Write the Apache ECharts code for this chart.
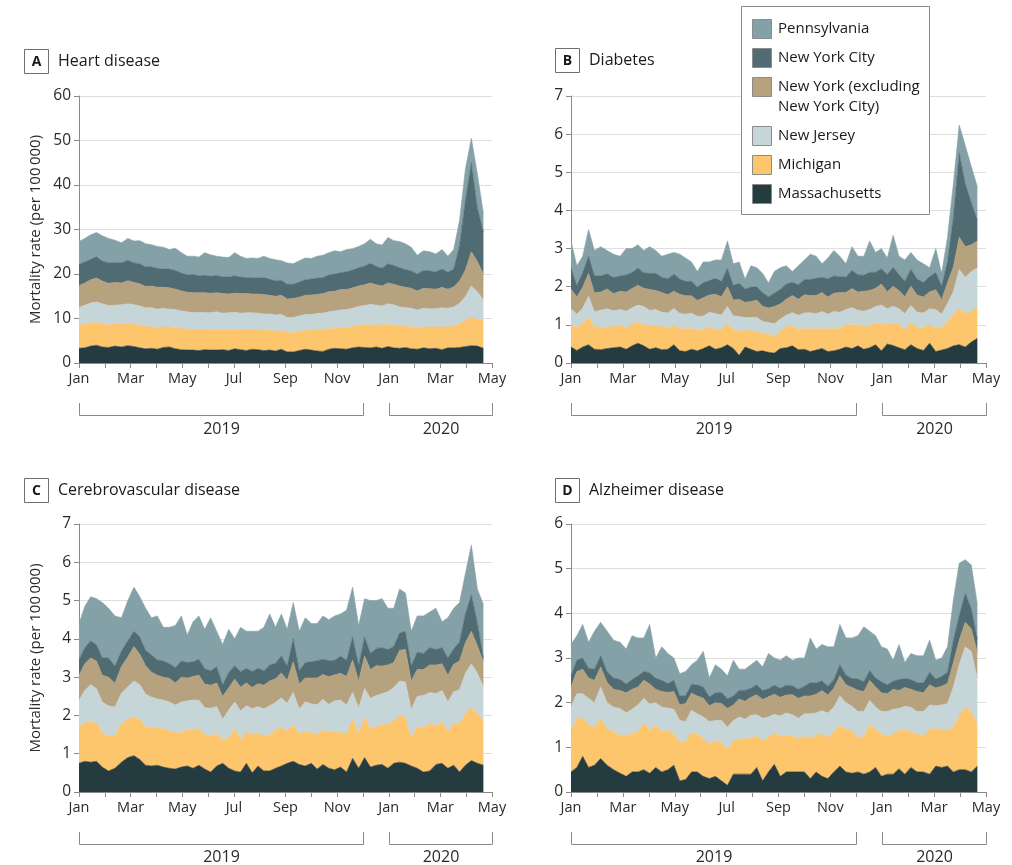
<!DOCTYPE html>
<html>
<head>
<meta charset="utf-8">
<title>Weekly mortality rates by state</title>
<script src="https://cdn.jsdelivr.net/npm/echarts@6/dist/echarts.min.js"></script>
<style>
  html, body { margin: 0; padding: 0; background: #fff; }
  #chart { width: 1012px; height: 865px; }
</style>
</head>
<body>
<div id="chart"></div>
<script>
// States, bottom of the stack first
const states = ['Massachusetts', 'Michigan', 'New Jersey', 'New York (excluding New York City)', 'New York City', 'Pennsylvania'];
const monthLabels = ['Jan', 'Feb', 'Mar', 'Apr', 'May', 'Jun', 'Jul', 'Aug', 'Sep', 'Oct', 'Nov', 'Dec', 'Jan', 'Feb', 'Mar', 'Apr', 'May'];
const yearLabels = ['2019', '2020'];
const firstWeek = '2019-01-01';
const weekCount = 69;

// A. Heart disease, weekly rate per 100 000
const heartMA = [3.3,3.4,3.8,4.0,3.6,3.5,3.8,3.6,3.9,3.7, 3.4,3.2,3.3,3.1,3.5,3.6,3.2,3.0,2.9,2.9, 2.8,3.0,2.9,2.9,3.0,2.8,3.2,3.0,2.8,3.1, 3.0,2.8,2.9,2.7,3.1,2.5,2.5,2.8,3.1,2.9, 2.7,2.6,3.1,3.3,3.2,3.1,3.4,3.6,3.5,3.4, 3.6,3.3,3.7,3.4,3.3,3.5,3.2,3.1,3.4,3.2, 3.3,3.0,3.4,3.4,3.5,3.7,3.9,3.8,3.3];
const heartMI = [5.2,5.3,5.2,5.1,5.3,5.0,5.0,5.2,4.9,5.0, 5.1,5.0,4.8,4.9,4.6,4.5,4.7,4.8,4.7,4.6, 4.7,4.5,4.6,4.7,4.5,4.7,4.4,4.5,4.7,4.4, 4.5,4.6,4.4,4.5,4.2,4.4,4.3,4.3,4.2,4.5, 4.8,4.9,4.6,4.5,4.7,4.9,4.8,4.9,5.1,5.2, 5.0,5.2,5.0,5.2,5.0,4.8,4.9,4.8,4.7,4.9, 4.8,5.1,4.8,4.9,5.3,5.8,6.4,6.0,6.5];
const heartNJ = [4.0,4.3,4.5,4.6,4.4,4.4,4.2,4.3,4.5,4.4, 4.3,4.2,4.3,4.1,4.2,4.0,4.1,3.9,3.9,3.8, 3.9,3.8,3.8,3.9,3.7,3.8,3.8,3.7,3.8,3.8, 3.7,3.6,3.7,3.6,3.6,3.3,3.4,3.5,3.6,3.5, 3.6,3.7,3.8,3.9,4.0,4.0,4.1,4.2,4.3,4.6, 4.4,4.3,4.6,4.5,4.3,4.2,4.2,4.0,4.2,4.1, 4.1,4.3,4.1,4.3,4.6,5.4,7.0,6.2,4.4];
const heartNY = [4.9,5.0,5.2,5.4,5.1,5.0,5.1,4.9,5.2,5.0, 5.0,4.8,4.9,4.9,4.7,4.8,4.6,4.5,4.4,4.5, 4.4,4.5,4.4,4.3,4.4,4.2,4.3,4.4,4.3,4.2, 4.3,4.4,4.2,4.2,4.3,4.2,4.3,4.2,4.3,4.4, 4.3,4.4,4.5,4.4,4.6,4.5,4.6,4.6,4.7,4.8, 4.6,4.5,4.7,4.6,4.7,4.5,4.5,4.3,4.5,4.5, 4.4,4.6,4.3,4.5,5.0,6.0,7.7,6.8,5.8];
const heartNYC = [4.8,4.7,4.6,4.8,4.5,4.6,4.4,4.5,4.6,4.4, 4.5,4.4,4.3,4.3,4.1,4.2,4.2,4.0,3.9,4.1, 3.8,3.9,3.8,3.9,3.7,3.8,3.9,3.7,3.6,3.7, 3.6,3.8,3.6,3.5,3.4,3.3,3.2,3.4,3.5,3.6, 3.7,3.6,3.8,3.9,3.8,4.0,4.0,4.1,4.2,4.4, 4.1,4.0,4.3,4.2,4.1,4.0,3.9,3.8,4.0,4.0, 3.9,4.1,3.8,4.0,8.0,15.5,20.0,12.0,9.5];
const heartPA = [5.1,5.3,5.5,5.4,5.7,5.5,5.1,4.5,4.9,4.9, 5.2,5.2,5.0,4.9,4.9,4.4,5.0,4.6,4.2,4.1, 4.2,5.1,4.8,4.3,4.5,4.4,5.2,4.7,4.3,4.4, 4.4,4.8,4.7,4.7,4.4,4.8,4.6,4.8,4.9,4.6, 4.9,5.0,5.0,5.2,4.7,5.0,4.8,4.8,5.0,5.4, 5.1,5.2,5.9,5.6,5.9,5.8,5.3,4.2,4.4,4.3, 4.0,4.4,3.6,4.4,5.6,7.1,5.5,7.7,4.1];

// B. Diabetes
const diabMA = [.42,.33,.42,.48,.36,.35,.38,.40,.42,.36, .45,.52,.45,.36,.40,.35,.36,.48,.32,.30, .36,.32,.38,.45,.36,.40,.48,.38,.20,.42, .36,.30,.32,.28,.26,.38,.40,.45,.35,.36, .30,.34,.38,.30,.32,.36,.42,.38,.45,.36, .40,.48,.32,.50,.46,.40,.35,.48,.38,.33, .52,.30,.34,.38,.45,.48,.42,.55,.65];
const diabMI = [.58,.60,.62,.72,.60,.58,.56,.55,.58,.55, .58,.55,.55,.62,.58,.60,.55,.50,.58,.60, .55,.52,.50,.48,.52,.48,.55,.50,.62,.45, .48,.52,.45,.48,.42,.45,.55,.52,.52,.55, .60,.55,.52,.60,.58,.55,.58,.62,.55,.58, .60,.55,.72,.50,.58,.62,.52,.58,.55,.60, .48,.62,.58,.70,.82,.95,.88,.80,.81];
const diabNJ = [.42,.35,.40,.55,.38,.45,.48,.42,.40,.45, .42,.45,.48,.40,.42,.38,.40,.45,.40,.38, .40,.38,.35,.40,.42,.38,.45,.35,.40,.32, .35,.38,.32,.30,.35,.32,.30,.35,.38,.40, .42,.40,.45,.38,.45,.42,.40,.45,.38,.42, .40,.45,.48,.42,.45,.40,.42,.45,.40,.38, .42,.48,.36,.48,.60,1.02,.95,1.05,1.04];
const diabNY = [.52,.45,.55,.60,.50,.48,.52,.45,.48,.50, .50,.52,.48,.55,.50,.52,.48,.45,.50,.48, .45,.42,.48,.45,.50,.48,.52,.42,.45,.40, .42,.45,.40,.38,.45,.40,.42,.45,.42,.48, .45,.48,.50,.45,.48,.52,.45,.50,.48,.52, .50,.48,.55,.45,.52,.48,.45,.50,.45,.42, .45,.52,.38,.55,.65,.85,.80,.70,.70];
const diabNYC = [.55,.30,.38,.45,.45,.42,.40,.42,.40,.45, .42,.45,.40,.42,.45,.40,.42,.45,.40,.38, .38,.35,.40,.38,.42,.40,.48,.38,.42,.35, .38,.35,.35,.30,.35,.38,.40,.35,.38,.40, .42,.45,.40,.48,.45,.42,.40,.48,.45,.42, .48,.42,.40,.45,.50,.42,.40,.45,.42,.38, .40,.45,.35,.55,1.30,2.20,1.65,1.10,.55];
const diabPA = [.71,.52,.43,.70,.66,.77,.61,.61,.52,.69, .63,.61,.59,.70,.60,.55,.64,.57,.65,.61, .51,.41,.54,.49,.48,.56,.72,.57,.56,.26, .56,.50,.51,.36,.57,.57,.48,.28,.50,.51, .66,.58,.35,.54,.67,.53,.35,.62,.49,.50, .82,.52,.53,.43,.84,.48,.56,.44,.50,.49, .23,.63,.34,.64,.88,.74,1.00,.95,.87];

// C. Cerebrovascular disease
const cereMA = [.75,.80,.78,.80,.65,.55,.62,.78,.90,.95, .85,.70,.68,.70,.65,.62,.60,.65,.68,.62, .70,.60,.52,.68,.75,.62,.55,.52,.75,.50, .68,.55,.55,.62,.68,.75,.80,.72,.68,.75, .60,.72,.62,.58,.65,.52,.88,.62,.90,.65, .70,.72,.62,.75,.78,.75,.68,.62,.52,.55, .72,.75,.62,.70,.52,.70,.82,.75,.70];
const cereMI = [.95,1.00,1.05,1.00,.90,.90,.85,1.00,1.00,1.00, 1.05,1.00,1.00,.98,1.00,.98,.95,.90,.95,1.00, .95,.90,.95,.85,.60,.80,1.10,.85,.80,1.00, .85,.90,.95,1.00,1.00,.85,.95,.80,.90,.80, .90,.90,.95,1.00,.90,1.00,1.02,.90,1.05,1.00, 1.00,1.05,1.15,1.10,1.22,1.20,.72,1.10,1.15,1.25, 1.00,1.10,.95,1.10,1.25,1.35,1.38,1.30,1.15];
const cereNJ = [.70,.85,.97,.90,.80,.80,.75,.80,.85,.95, .90,.85,.80,.75,.75,.75,.72,.80,.75,.78, .75,.70,.72,.70,.55,.72,.70,.75,.70,.68, .70,.72,.75,.72,.78,.72,.85,.65,.78,.75, .78,.80,.72,.80,.85,.75,.70,.68,.75,.80, .82,.80,.85,.88,.90,.92,.75,.78,.85,.80, .85,.80,.78,.82,.90,1.05,1.15,1.05,.90];
const cereNY = [.65,.70,.70,.72,.70,.75,.62,.70,.78,.90, .80,.75,.65,.62,.60,.62,.58,.65,.60,.62, .65,.62,.60,.62,.60,.58,.60,.62,.60,.55, .60,.62,.65,.62,.65,.60,.80,.65,.62,.68, .70,.65,.72,.68,.70,.75,.85,.70,.85,.75, .78,.72,.70,.65,.80,.85,.75,.70,.68,.72, .75,.70,.70,.72,.75,.80,.85,.72,.65];
const cereNYC = [.40,.42,.45,.42,.45,.50,.45,.40,.42,.40, .45,.40,.45,.40,.42,.38,.40,.42,.40,.38, .42,.40,.38,.42,.30,.40,.35,.40,.38,.42, .40,.38,.42,.40,.45,.38,.60,.35,.40,.42, .45,.40,.42,.38,.45,.42,.60,.40,.50,.42, .45,.48,.40,.42,.45,.48,.40,.45,.42,.45, .40,.42,.45,.40,.50,.75,.95,.60,.10];
const cerePA = [.95,1.08,1.15,1.21,1.45,1.30,1.31,.87,1.05,1.15, 1.05,1.10,.97,1.15,.88,.95,1.10,1.18,.72,1.05, 1.13,1.03,1.38,.93,1.05,1.13,.70,1.16,.97,1.05, .97,1.13,1.33,.94,1.09,.95,.95,1.03,1.17,1.00, .97,1.13,1.07,1.16,1.10,1.31,1.30,1.05,1.00,1.38, 1.25,1.28,1.08,1.00,1.15,1.00,.90,.95,.98,.93, 1.08,.68,1.05,1.06,1.03,1.05,1.30,.88,1.40];

// D. Alzheimer disease
const alzMA = [.45,.55,.80,.55,.60,.75,.60,.50,.42,.35, .45,.45,.50,.42,.55,.45,.50,.60,.25,.28, .45,.45,.35,.30,.35,.25,.15,.40,.40,.40, .40,.55,.25,.45,.62,.35,.45,.45,.45,.45, .30,.45,.35,.30,.45,.58,.45,.42,.45,.40, .45,.55,.35,.40,.40,.52,.40,.55,.45,.45, .40,.58,.55,.58,.45,.50,.50,.45,.58];
const alzMI = [.90,1.10,.85,.95,.85,.90,.80,.85,.85,.92, .85,.90,1.05,.95,.95,.90,.88,.70,.85,.85, .88,.85,.85,.78,.80,.85,.80,.75,.80,.78, .82,.70,.90,.78,.70,.90,.82,.80,.75,.80, .90,.82,.95,.92,.90,.92,.95,.95,.75,.85, 1.05,.85,.95,.85,.90,.85,1.00,.80,.85,.80, 1.00,.85,.85,.80,1.00,1.20,1.40,1.35,.95];
const alzNJ = [.55,.55,.55,.60,.55,.70,.60,.55,.60,.50, .55,.60,.55,.60,.50,.55,.50,.55,.50,.45, .50,.45,.48,.50,.45,.50,.50,.45,.48,.45, .50,.48,.50,.45,.42,.45,.50,.48,.45,.50, .55,.50,.52,.55,.55,.65,.60,.55,.60,.55, .55,.50,.50,.55,.55,.50,.52,.55,.50,.55, .55,.50,.55,.60,.90,1.15,1.35,1.35,1.00];
const alzNY = [.45,.50,.55,.45,.50,.45,.45,.40,.40,.45, .45,.40,.40,.45,.30,.35,.35,.40,.35,.40, .38,.40,.42,.35,.40,.38,.42,.35,.40,.40, .40,.45,.42,.45,.45,.42,.40,.45,.45,.40, .40,.42,.45,.40,.42,.45,.40,.42,.48,.45, .45,.45,.42,.40,.45,.40,.42,.40,.45,.42, .45,.40,.42,.45,.55,.55,.55,.50,.60];
const alzNYC = [.25,.25,.25,.22,.25,.25,.25,.25,.25,.20, .22,.25,.20,.25,.25,.25,.20,.25,.20,.18, .20,.25,.25,.20,.22,.25,.22,.20,.20,.25, .20,.22,.20,.18,.20,.20,.22,.20,.20,.22, .30,.25,.22,.20,.20,.25,.22,.20,.25,.22, .22,.20,.25,.20,.18,.25,.20,.22,.20,.22, .28,.20,.22,.25,.50,.55,.65,.45,.30];
const alzPA = [.70,.55,.75,.58,.85,.75,.90,.85,.83,.78, .98,.85,.75,1.08,.45,.75,.67,.50,.50,.54, .44,.55,.80,.42,.63,.52,.51,.80,.47,.47, .53,.55,.53,.79,.61,.63,.66,.57,.70,.63, 1.00,.76,.81,.88,.73,.90,.83,.91,.97,1.23, .88,.95,.78,.80,.47,.78,.36,.58,.60,.61, .72,.42,.41,.57,.90,1.17,.75,.98,.77];

// Layer colours, same order as states
const colors = ['#243b40', '#fdc56c', '#c5d5d8', '#b6a27f', '#506b72', '#84a1a8'];
const FONT = '"Open Sans", "Noto Sans", sans-serif';

const panels = [
  { letter: 'A', title: 'Heart disease', values: [heartMA, heartMI, heartNJ, heartNY, heartNYC, heartPA], max: 60, interval: 10, axisName: true,
    grid: { left: 79, top: 96, right: 520, bottom: 502 }, boxX: 24, boxY: 49, bracketY: 403, yearY: 429 },
  { letter: 'B', title: 'Diabetes', values: [diabMA, diabMI, diabNJ, diabNY, diabNYC, diabPA], max: 7, interval: 1, axisName: false,
    grid: { left: 571, top: 96, right: 26, bottom: 502 }, boxX: 555, boxY: 48, bracketY: 403, yearY: 429 },
  { letter: 'C', title: 'Cerebrovascular disease', values: [cereMA, cereMI, cereNJ, cereNY, cereNYC, cerePA], max: 7, interval: 1, axisName: true,
    grid: { left: 79, top: 524, right: 520, bottom: 73 }, boxX: 24, boxY: 478, bracketY: 832, yearY: 857 },
  { letter: 'D', title: 'Alzheimer disease', values: [alzMA, alzMI, alzNJ, alzNY, alzNYC, alzPA], max: 6, interval: 1, axisName: false,
    grid: { left: 571, top: 524, right: 26, bottom: 73 }, boxX: 555, boxY: 478, bracketY: 832, yearY: 857 }
];

// Position of each week on a month-based axis (0 = 1 Jan 2019, 16 = 1 May 2020)
const start = new Date(firstWeek + 'T00:00:00');
const weekX = [];
for (let i = 0; i < weekCount; i++) {
  const d = new Date(start.getFullYear(), start.getMonth(), start.getDate() + 7 * i);
  const daysInMonth = new Date(d.getFullYear(), d.getMonth() + 1, 0).getDate();
  weekX.push((d.getFullYear() - 2019) * 12 + d.getMonth() + (d.getDate() - 1) / daysInMonth);
}

const axisColor = '#8a8a8a';
const textColor = '#2a2a2a';

const option = {
  animation: false,
  backgroundColor: '#fff',
  textStyle: { fontFamily: FONT },
  grid: panels.map(p => Object.assign({ containLabel: false }, p.grid)),
  xAxis: panels.map((p, i) => ({
    type: 'value', gridIndex: i, min: 0, max: 16, interval: 1,
    axisLine: { lineStyle: { color: axisColor, width: 1 } },
    axisTick: { show: true, length: 5, lineStyle: { color: axisColor } },
    splitLine: { show: false },
    axisLabel: {
      fontSize: 14.5, color: textColor, fontFamily: FONT, margin: 8,
      showMinLabel: true, showMaxLabel: true,
      formatter: v => (v % 2 === 0 ? monthLabels[v] : '')
    }
  })),
  yAxis: panels.map((p, i) => ({
    type: 'value', gridIndex: i, min: 0, max: p.max, interval: p.interval,
    name: p.axisName ? 'Mortality rate (per 100\u2009000)' : '',
    nameLocation: 'middle', nameGap: 36,
    nameTextStyle: { fontSize: 15, color: textColor, fontFamily: FONT },
    axisLine: { show: true, lineStyle: { color: axisColor, width: 1 } },
    axisTick: { show: true, length: 5, lineStyle: { color: axisColor } },
    splitLine: { show: true, lineStyle: { color: '#dedede', width: 1 } },
    axisLabel: { fontSize: 15.5, color: textColor, fontFamily: FONT, margin: 8 }
  })),
  series: []
};

panels.forEach((p, pi) => {
  p.values.forEach((vals, si) => {
    option.series.push({
      type: 'line',
      name: states[si],
      xAxisIndex: pi, yAxisIndex: pi,
      stack: 'panel' + pi,
      symbol: 'none',
      smooth: false,
      silent: true,
      lineStyle: { width: 0.6, color: colors[si] },
      areaStyle: { color: colors[si], opacity: 1 },
      emphasis: { disabled: true },
      // rate first so that the stack accumulates along the y axis
      dimensions: ['rate', 'month'],
      encode: { x: 'month', y: 'rate' },
      data: vals.map((v, i) => [v, weekX[i]])
    });
  });
});

const chart = echarts.init(document.getElementById('chart'), null, { renderer: 'canvas' });
chart.setOption(option);

// Panel labels, year brackets and the legend
const graphics = [];
panels.forEach((p, pi) => {
  graphics.push({
    type: 'rect', z: 100, shape: { x: p.boxX + 0.5, y: p.boxY + 0.5, width: 24, height: 24 },
    style: { fill: '#fff', stroke: '#6f6f6f', lineWidth: 1 }
  });
  graphics.push({
    type: 'text', z: 101, x: p.boxX + 12.5, y: p.boxY + 13,
    style: { text: p.letter, font: 'bold 14px ' + FONT, fill: '#1a1a1a', align: 'center', verticalAlign: 'middle' }
  });
  graphics.push({
    type: 'text', z: 101, x: p.boxX + 34, y: p.boxY + 12.5,
    style: { text: p.title, font: '16px ' + FONT, fill: '#1a1a1a', align: 'left', verticalAlign: 'middle' }
  });
  const spans = [[0, 11], [12, 16]];
  spans.forEach((s, k) => {
    const x0 = Math.round(chart.convertToPixel({ xAxisIndex: pi }, s[0])) + 0.5;
    const x1 = Math.round(chart.convertToPixel({ xAxisIndex: pi }, s[1])) + 0.5;
    const yTop = p.bracketY, yBot = p.bracketY + 12.5;
    graphics.push({
      type: 'polyline', z: 100,
      shape: { points: [[x0, yTop], [x0, yBot], [x1, yBot], [x1, yTop]] },
      style: { stroke: '#8a8a8a', lineWidth: 1, fill: null }
    });
    graphics.push({
      type: 'text', z: 101, x: (x0 + x1) / 2, y: p.yearY,
      style: { text: yearLabels[k], font: '16px ' + FONT, fill: textColor, align: 'center', verticalAlign: 'middle' }
    });
  });
});

// Legend box, top entry is the top layer of the stack
graphics.push({
  type: 'rect', z: 100, shape: { x: 741.5, y: 6.5, width: 188, height: 208 },
  style: { fill: '#fff', stroke: '#8a8a8a', lineWidth: 1 }
});
const legendRows = [
  { idx: 5, swatchY: 19, lines: ['Pennsylvania'] },
  { idx: 4, swatchY: 48, lines: ['New York City'] },
  { idx: 3, swatchY: 77, lines: ['New York (excluding', 'New York City)'] },
  { idx: 2, swatchY: 126, lines: ['New Jersey'] },
  { idx: 1, swatchY: 155, lines: ['Michigan'] },
  { idx: 0, swatchY: 184, lines: ['Massachusetts'] }
];
legendRows.forEach(r => {
  graphics.push({
    type: 'rect', z: 101, shape: { x: 752.5, y: r.swatchY + 0.5, width: 19, height: 19 },
    style: { fill: colors[r.idx], stroke: '#8c8c8c', lineWidth: 1 }
  });
  r.lines.forEach((line, li) => {
    graphics.push({
      type: 'text', z: 101, x: 778, y: r.swatchY + 10 + li * 19.5,
      style: { text: line, font: '15px ' + FONT, fill: '#1a1a1a', align: 'left', verticalAlign: 'middle' }
    });
  });
});

chart.setOption({ graphic: graphics });
</script>
</body>
</html>
